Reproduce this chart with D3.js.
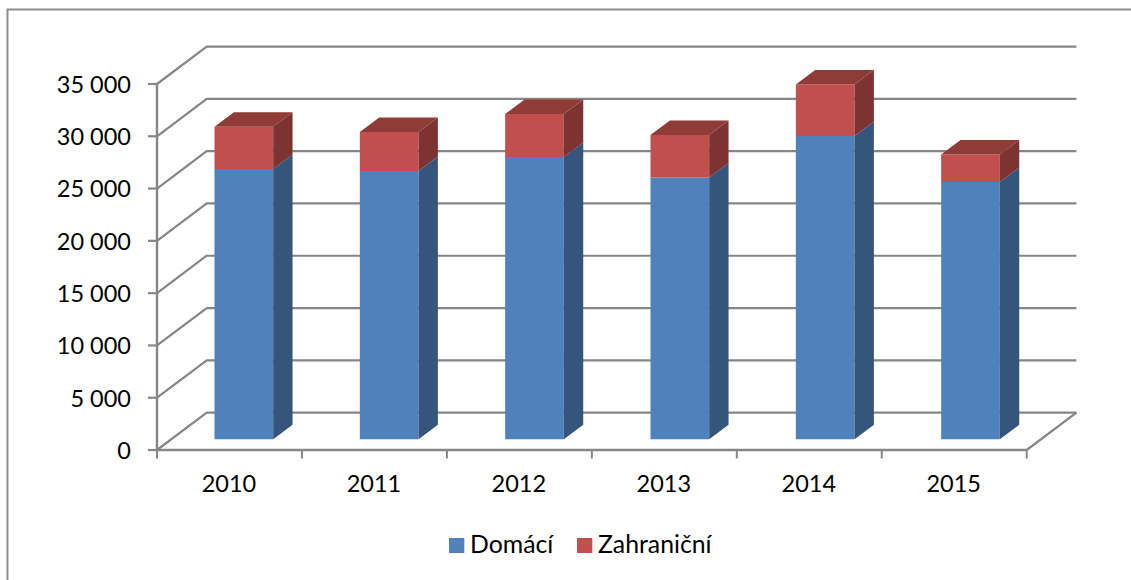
<!DOCTYPE html>
<html><head><meta charset="utf-8">
<style>html,body{margin:0;padding:0;background:#fff;overflow:hidden}svg{display:block}text{font-family:Lato,"Open Sans",sans-serif;fill:#000}</style>
<script src="https://cdn.jsdelivr.net/npm/d3@7"></script></head><body>
<script>
const categories = ["2010","2011","2012","2013","2014","2015"];
const seriesNames = ["Domácí","Zahraniční"];
const domaci = [25850,25650,26990,25040,29000,24600];
const zahranicni = [4045,3730,4110,4060,4925,2640];
const yTicks = [0,5000,10000,15000,20000,25000,30000,35000];
const tickFormat = v => v === 0 ? "0" : `${Math.floor(v/1000)} 000`;

const W=1131,H=580;
const svg=d3.select("body").append("svg").attr("width",W).attr("height",H);
const x=d3.scaleBand().domain(categories).range([157,1026.7]);
const xBar=d3.scaleBand().domain(categories).range([157,1029]);
const y=d3.scaleLinear().domain([0,35000]).range([450,84]);
const depth=d3.scaleLinear().domain([0,1]).range([0,1]);
const DX=49.7,DY=-37.4;
const px=(xv,d)=>xv+depth(d)*DX;
const py=(v,d)=>y(v)+depth(d)*DY;
const axisCol="#868686";

const defs=svg.append("defs");
defs.append("filter").attr("id","soft").attr("x","-5%").attr("y","-5%").attr("width","110%").attr("height","110%")
  .append("feGaussianBlur").attr("stdDeviation",0.35);

// chart border (left and top only)
svg.append("path").attr("d",`M${W},9.5H7.5V${H}`).attr("fill","none").attr("stroke","#8c8c8c").attr("stroke-width",2);

const g=svg.append("g").attr("filter","url(#soft)");
const x0=x.range()[0],x1=x.range()[1];

// walls: back gridlines and left-wall diagonals
yTicks.forEach(t=>{
  g.append("path").attr("d",`M${x0},${y(t)}L${px(x0,1)},${py(t,1)}H${px(x1,1)}`)
   .attr("fill","none").attr("stroke",axisCol).attr("stroke-width",2.2).attr("stroke-linejoin","round");
  g.append("line").attr("x1",x0-9).attr("x2",x0).attr("y1",y(t)).attr("y2",y(t)).attr("stroke",axisCol).attr("stroke-width",2.2);
});
// floor right edge
g.append("path").attr("d",`M${x1},${y(0)}L${px(x1,1)},${py(0,1)}`).attr("stroke",axisCol).attr("stroke-width",2.2);
// axes
g.append("path").attr("d",`M${x0},${y(35000)}V${y(0)}H${x1}`).attr("fill","none").attr("stroke",axisCol).attr("stroke-width",2.4);
categories.concat([null]).forEach((c,i)=>{
  const tx=x0+i*x.step();
  g.append("line").attr("x1",tx).attr("x2",tx).attr("y1",y(0)).attr("y2",y(0)+8.5).attr("stroke",axisCol).attr("stroke-width",2);
});

// stacked 3D bars
const dFront=0.285,dBack=0.675,barW=58.7;
const pal=[{f:"#4f81bd",s:"#34547d",t:"#3f6797"},{f:"#c0504d",s:"#7f3331",t:"#8f3a38"}];
const poly=(pts,c)=>g.append("polygon").attr("points",pts.map(p=>p.join(",")).join(" ")).attr("fill",c);
categories.forEach((c,i)=>{
  const xc=xBar(c)+xBar.bandwidth()/2-barW/2;
  const a=px(xc,dFront),b=a+barW,bb=px(xc,dBack)+barW;
  let base=0;
  [domaci[i],zahranicni[i]].forEach((v,k)=>{
    const top=base+v,col=pal[k];
    const fy=(val)=>py(val,dFront),by=(val)=>py(val,dBack);
    poly([[a,fy(base)],[b,fy(base)],[b,fy(top)],[a,fy(top)]],col.f);
    poly([[b,fy(base)],[bb,by(base)],[bb,by(top)],[b,fy(top)]],col.s);
    if(k===1) poly([[a,fy(top)],[b,fy(top)],[bb,by(top)],[a+(bb-b),by(top)]],col.t);
    base=top;
  });
});

// labels
svg.append("g").selectAll("text").data(yTicks).join("text")
  .attr("x",131).attr("y",d=>y(d)+8.8).attr("text-anchor","end").attr("font-size",23.5).text(tickFormat);
svg.append("g").selectAll("text").data(categories).join("text")
  .attr("x",d=>x(d)+x.bandwidth()/2-0.5).attr("y",492).attr("text-anchor","middle").attr("font-size",23.5).text(d=>d);

// legend
const lx=[449,577],ltx=[470,598],lc=[pal[0].f,pal[1].f];
seriesNames.forEach((n,i)=>{
  svg.append("rect").attr("x",lx[i]).attr("y",538).attr("width",15.3).attr("height",15).attr("fill",lc[i]);
  svg.append("text").attr("x",ltx[i]).attr("y",553).attr("font-size",24.8).text(n);
});
</script></body></html>
